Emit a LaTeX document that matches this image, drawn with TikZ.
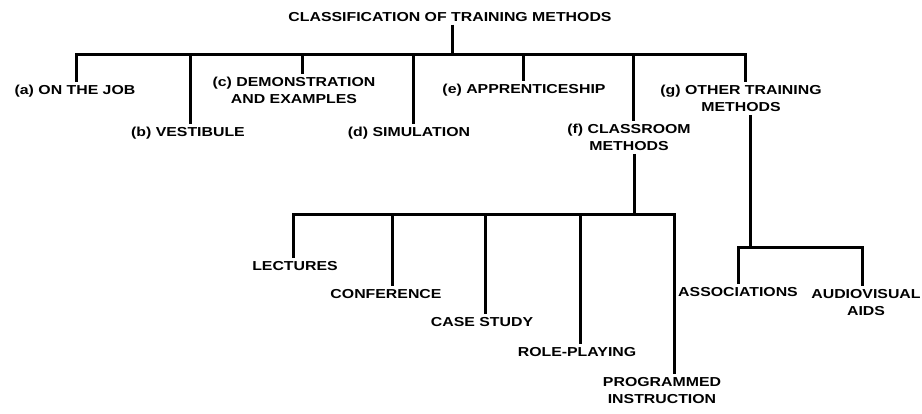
\documentclass[tikz,border=0pt]{standalone}
\usepackage{fontspec}
\setmainfont{Liberation Sans}
\newfontfamily\chartfont[FakeStretch=1.22]{Liberation Sans}
\begin{document}
\begin{tikzpicture}[x=1pt,y=-1pt,
  lbl/.style={font=\chartfont\bfseries\fontsize{13}{17}\selectfont,
              inner xsep=1pt, inner ysep=3pt, align=center, anchor=north},
  link/.style={line width=3pt, line cap=butt, line join=miter}]
\useasboundingbox (0,0) rectangle (922,414);

% title and first level
\node[lbl] (title) at (450,9) {CLASSIFICATION OF TRAINING METHODS};
\node[lbl] (a) at (75,82)  {(a) ON THE JOB};
\node[lbl] (b) at (188,124) {(b) VESTIBULE};
\node[lbl] (c) at (294,74) {(c) DEMONSTRATION\\AND EXAMPLES};
\node[lbl] (d) at (409,124) {(d) SIMULATION};
\node[lbl] (e) at (524,81) {(e) APPRENTICESHIP};
\node[lbl] (f) at (629,121) {(f) CLASSROOM\\METHODS};
\node[lbl] (g) at (741,82) {(g) OTHER TRAINING\\METHODS};

% classroom methods
\node[lbl] (lec) at (295,258) {LECTURES};
\node[lbl] (con) at (386,286) {CONFERENCE};
\node[lbl] (cas) at (482,314) {CASE STUDY};
\node[lbl] (rol) at (577,344) {ROLE-PLAYING};
\node[lbl] (pro) at (662,374) {PROGRAMMED\\INSTRUCTION};

% other training methods
\node[lbl] (ass) at (738,284) {ASSOCIATIONS};
\node[lbl] (aud) at (866,286) {AUDIOVISUAL\\AIDS};

% bar under the title
\coordinate (ta) at (452,55);
\coordinate (ba) at (76,55);
\coordinate (bb) at (190,55);
\coordinate (bc) at (302,55);
\coordinate (bd) at (413,55);
\coordinate (be) at (523,55);
\coordinate (bf) at (633,55);
\coordinate (bg) at (745,55);
\draw[link] (title.south -| ta) -- (ta);
\draw[link] (a.north -| ba) -- (ba) -- (bg) -- (g.north -| bg);
\foreach \n/\k in {b/bb,c/bc,d/bd,e/be,f/bf}
  \draw[link] (\k) -- (\n.north -| \k);

% bar under classroom methods
\coordinate (fa) at (634,215);
\coordinate (f1) at (293,215);
\coordinate (f2) at (392,215);
\coordinate (f3) at (485,215);
\coordinate (f4) at (580,215);
\coordinate (f5) at (674,215);
\draw[link] (f.south -| fa) -- (fa);
\draw[link] (lec.north -| f1) -- (f1) -- (f5) -- (pro.north -| f5);
\foreach \n/\k in {con/f2,cas/f3,rol/f4}
  \draw[link] (\k) -- (\n.north -| \k);

% bar under other training methods
\coordinate (ga) at (750,248);
\coordinate (g1) at (738,248);
\coordinate (g2) at (862,248);
\draw[link] (g.south -| ga) -- (ga);
\draw[link] (ass.north -| g1) -- (g1) -- (g2) -- (aud.north -| g2);
\end{tikzpicture}
\end{document}
